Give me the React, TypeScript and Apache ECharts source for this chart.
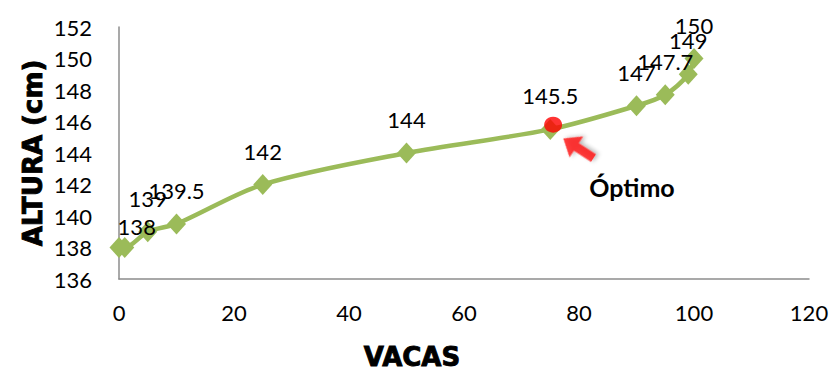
import React, { useEffect, useRef } from "react";
import * as echarts from "echarts";

// Cows (x) and height in cm (y)
const vacas = [0, 1, 5, 10, 25, 50, 75, 90, 95, 99, 100];
const altura = [138, 138, 139, 139.5, 142, 144, 145.5, 147, 147.7, 149, 150];

// Optimum point highlighted in red
const optimo = [75.5, 145.8];
// Arrow anchor pointing at the optimum
const flecha = [79.9, 144.3];

const yTicks = { min: 136, max: 152, interval: 2 };
const xTicks = { min: 0, max: 120, interval: 20 };

const FONT = "Lato, 'Open Sans', sans-serif";
const BOLD = "'DejaVu Sans', sans-serif";

export default function App() {
  const ref = useRef<HTMLDivElement>(null);

  useEffect(() => {
    if (!ref.current) return;
    const chart = echarts.init(ref.current, null, { renderer: "svg" });

    const points = vacas.map((x, i) => ({
      value: [x, altura[i]],
      label:
        i === 0
          ? { show: false }
          : i === 1
          ? { offset: [12, 12] }
          : undefined,
    }));

    const titleStyle = {
      fontFamily: BOLD,
      fontWeight: 900,
      fontSize: 26,
      fill: "#000",
      stroke: "#000",
      lineWidth: 0.9,
      align: "center",
      verticalAlign: "middle",
    };

    chart.setOption({
      animation: false,
      backgroundColor: "#ffffff",
      grid: { left: 119, right: 25, top: 27, bottom: 95 },
      xAxis: {
        type: "value",
        min: xTicks.min,
        max: xTicks.max,
        interval: xTicks.interval,
        axisLine: { show: true, lineStyle: { color: "#8c8c8c", width: 1.5 } },
        axisTick: { show: false },
        splitLine: { show: false },
        axisLabel: { color: "#000", fontSize: 22, fontFamily: FONT, margin: 22 },
      },
      yAxis: {
        type: "value",
        min: yTicks.min,
        max: yTicks.max,
        interval: yTicks.interval,
        axisLine: { show: true, lineStyle: { color: "#8c8c8c", width: 1.5 } },
        axisTick: { show: false },
        splitLine: { show: false },
        axisLabel: { color: "#000", fontSize: 22, fontFamily: FONT, margin: 27 },
      },
      series: [
        {
          type: "line",
          data: points,
          smooth: 0.3,
          symbol: "diamond",
          symbolSize: [19, 21],
          lineStyle: { color: "#9BBB59", width: 4.5 },
          itemStyle: { color: "#9BBB59" },
          label: {
            show: true,
            position: "top",
            distance: 12,
            color: "#000",
            fontSize: 22,
            fontFamily: FONT,
            formatter: (p: any) => String(p.value[1]),
          },
          z: 2,
        },
        {
          type: "scatter",
          data: [optimo],
          symbol: "circle",
          symbolSize: [18, 16],
          itemStyle: { color: "#FF0000" },
          z: 3,
        },
        {
          type: "scatter",
          data: [flecha],
          symbol:
            "path://M10,0 L21,13 L14,13 L14,30 L6,30 L6,13 L-1,13 Z",
          symbolSize: [25, 36],
          symbolRotate: 57,
          itemStyle: {
            color: "#FF1010",
            shadowColor: "rgba(0,0,0,0.35)",
            shadowBlur: 4,
            shadowOffsetX: 2,
            shadowOffsetY: 2,
          },
          z: 3,
        },
      ],
      graphic: [
        {
          type: "text",
          x: 33,
          y: 153,
          rotation: Math.PI / 2,
          style: { ...titleStyle, text: "ALTURA (cm)" },
        },
        {
          type: "text",
          x: 412,
          y: 357,
          style: { ...titleStyle, text: "VACAS" },
        },
        {
          type: "text",
          x: 632,
          y: 187,
          style: {
            text: "Óptimo",
            fontFamily: FONT,
            fontWeight: "bold",
            fontSize: 25,
            fill: "#000",
            align: "center",
            verticalAlign: "middle",
          },
        },
      ],
    });

    return () => chart.dispose();
  }, []);

  return (
    <div
      ref={ref}
      style={{ position: "fixed", left: 0, top: 0, width: 834, height: 374 }}
    />
  );
}
